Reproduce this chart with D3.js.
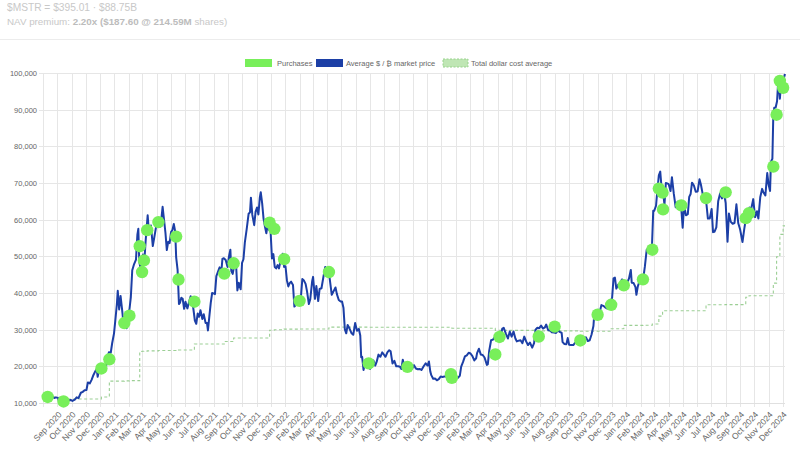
<!DOCTYPE html>
<html><head><meta charset="utf-8">
<script src="https://cdn.jsdelivr.net/npm/d3@7"></script>
<style>
body{margin:0;background:#fff;}
svg{display:block;font-family:"Liberation Sans",Arial,Helvetica,sans-serif;}
</style>
</head><body>
<svg id="chart" width="800" height="451"></svg>
<script>
// ---------- DATA ----------
const headerLine1 = "$MSTR = $395.01 · $88.75B";
const headerLine2a = "NAV premium: ";
const headerLine2b = "2.20x ($187.60 @ 214.59M";
const headerLine2c = " shares)";

const legendLabels = ["Purchases", "Average $ / ₿ market price", "Total dollar cost average"];

const yTickValues = [10000, 20000, 30000, 40000, 50000, 60000, 70000, 80000, 90000, 100000];
const xTickStart = "2020-09-01";
const xTickEnd = "2024-12-01";
const xDomain = ["2020-08-01", "2024-12-06"];

const purchaseDates = [
 "2020-08-11","2020-09-14","2020-12-04","2020-12-21",
 "2021-01-22","2021-02-02","2021-02-24","2021-03-01","2021-03-05","2021-03-12","2021-04-05","2021-05-13","2021-05-18","2021-06-21","2021-08-24","2021-09-13","2021-11-29","2021-12-09","2021-12-30",
 "2022-02-01","2022-04-05","2022-06-29","2022-09-20","2022-12-22","2022-12-24",
 "2023-03-27","2023-04-05","2023-06-28","2023-08-01","2023-09-25","2023-11-01","2023-11-30","2023-12-27",
 "2024-02-06","2024-02-26","2024-03-11","2024-03-19","2024-03-20","2024-04-28","2024-06-20","2024-08-01","2024-09-13","2024-09-20","2024-11-11","2024-11-18","2024-11-25","2024-12-02"
];
const purchasePrices = [
 11654,10419,19427,21925,
 31808,33808,52765,45710,48888,57146,59339,55387,43663,37617,45294,48099,59187,57477,49229,
 37865,45714,20817,19851,17871,16845,
 23238,28016,28136,30835,27053,34070,36785,42110,
 43723,51813,68477,67382,62800,63900,65883,67455,60408,61750,74463,88627,97862,95976
];

const dcaDates = [
 "2020-08-11","2020-09-14","2020-12-04","2020-12-21",
 "2021-01-22","2021-02-02","2021-02-24","2021-03-01","2021-03-05","2021-03-12","2021-04-05","2021-05-13","2021-05-18","2021-06-21","2021-08-24","2021-09-13","2021-11-29","2021-12-09","2021-12-30",
 "2022-02-01","2022-04-05","2022-06-29","2022-09-20","2022-12-24",
 "2023-03-27","2023-04-05","2023-06-28","2023-08-01","2023-09-25","2023-11-01","2023-11-30","2023-12-27",
 "2024-02-06","2024-02-26","2024-03-11","2024-03-19","2024-04-28","2024-06-20","2024-08-01","2024-09-13","2024-09-20","2024-11-11","2024-11-18","2024-11-25","2024-12-02","2024-12-06"
];
const dcaValues = [
 11654,11111,11636,15964,
 16035,16109,24063,24101,24134,24214,24311,24403,24450,26080,26769,27713,29861,29978,30159,
 30200,30700,30664,30639,30397,
 29803,29817,29668,29672,29582,29586,30252,31168,
 31224,31544,33706,35160,35168,36798,36821,38843,39266,42692,49874,55977,58300,58300
];

// BTC market price (sampled)
const priceDates = [
 // 2020
 "2020-08-01","2020-08-05","2020-08-09","2020-08-13","2020-08-17","2020-08-21","2020-08-25","2020-08-29",
 "2020-09-02","2020-09-05","2020-09-09","2020-09-13","2020-09-17","2020-09-21","2020-09-25","2020-09-29",
 "2020-10-03","2020-10-08","2020-10-12","2020-10-16","2020-10-21","2020-10-25","2020-10-29",
 "2020-11-02","2020-11-05","2020-11-09","2020-11-13","2020-11-17","2020-11-21","2020-11-24","2020-11-26","2020-11-30",
 "2020-12-04","2020-12-08","2020-12-12","2020-12-16","2020-12-20","2020-12-24","2020-12-27","2020-12-31",
 // 2021
 "2021-01-03","2021-01-06","2021-01-08","2021-01-11","2021-01-14","2021-01-17","2021-01-21","2021-01-24","2021-01-27","2021-01-29",
 "2021-02-02","2021-02-05","2021-02-08","2021-02-12","2021-02-16","2021-02-19","2021-02-21","2021-02-23","2021-02-26","2021-02-28",
 "2021-03-03","2021-03-06","2021-03-09","2021-03-13","2021-03-16","2021-03-20","2021-03-24","2021-03-28",
 "2021-04-01","2021-04-04","2021-04-08","2021-04-11","2021-04-14","2021-04-17","2021-04-20","2021-04-23","2021-04-26","2021-04-29",
 "2021-05-02","2021-05-05","2021-05-08","2021-05-11","2021-05-13","2021-05-16","2021-05-19","2021-05-21","2021-05-24","2021-05-27","2021-05-30",
 "2021-06-02","2021-06-06","2021-06-09","2021-06-13","2021-06-16","2021-06-19","2021-06-22","2021-06-25","2021-06-28",
 "2021-07-01","2021-07-04","2021-07-08","2021-07-11","2021-07-15","2021-07-18","2021-07-20","2021-07-23","2021-07-26","2021-07-29",
 "2021-08-01","2021-08-04","2021-08-07","2021-08-10","2021-08-14","2021-08-17","2021-08-20","2021-08-23","2021-08-27","2021-08-31",
 "2021-09-03","2021-09-06","2021-09-08","2021-09-11","2021-09-15","2021-09-18","2021-09-21","2021-09-24","2021-09-28",
 "2021-10-01","2021-10-04","2021-10-07","2021-10-11","2021-10-15","2021-10-18","2021-10-20","2021-10-23","2021-10-27","2021-10-30",
 "2021-11-02","2021-11-05","2021-11-08","2021-11-10","2021-11-13","2021-11-16","2021-11-19","2021-11-22","2021-11-25","2021-11-28",
 "2021-12-01","2021-12-04","2021-12-07","2021-12-10","2021-12-13","2021-12-16","2021-12-19","2021-12-22","2021-12-27","2021-12-30",
 // 2022
 "2022-01-02","2022-01-05","2022-01-08","2022-01-11","2022-01-14","2022-01-18","2022-01-21","2022-01-24","2022-01-27","2022-01-31",
 "2022-02-03","2022-02-07","2022-02-10","2022-02-14","2022-02-17","2022-02-21","2022-02-24","2022-02-28",
 "2022-03-02","2022-03-06","2022-03-09","2022-03-13","2022-03-16","2022-03-20","2022-03-24","2022-03-28","2022-03-31",
 "2022-04-04","2022-04-07","2022-04-11","2022-04-15","2022-04-19","2022-04-22","2022-04-26","2022-04-30",
 "2022-05-03","2022-05-06","2022-05-09","2022-05-12","2022-05-15","2022-05-19","2022-05-23","2022-05-27","2022-05-31",
 "2022-06-04","2022-06-08","2022-06-11","2022-06-13","2022-06-15","2022-06-18","2022-06-21","2022-06-25","2022-06-29",
 "2022-07-02","2022-07-06","2022-07-09","2022-07-13","2022-07-16","2022-07-20","2022-07-24","2022-07-28","2022-07-31",
 "2022-08-04","2022-08-08","2022-08-12","2022-08-15","2022-08-19","2022-08-23","2022-08-27","2022-08-31",
 "2022-09-04","2022-09-07","2022-09-10","2022-09-13","2022-09-16","2022-09-19","2022-09-22","2022-09-26","2022-09-30",
 "2022-10-04","2022-10-08","2022-10-12","2022-10-16","2022-10-20","2022-10-25","2022-10-29",
 "2022-11-02","2022-11-05","2022-11-08","2022-11-10","2022-11-14","2022-11-18","2022-11-22","2022-11-26","2022-11-30",
 "2022-12-04","2022-12-08","2022-12-12","2022-12-14","2022-12-17","2022-12-21","2022-12-25","2022-12-29",
 // 2023
 "2023-01-02","2023-01-06","2023-01-10","2023-01-13","2023-01-17","2023-01-21","2023-01-25","2023-01-29",
 "2023-02-02","2023-02-06","2023-02-10","2023-02-14","2023-02-16","2023-02-20","2023-02-24","2023-02-28",
 "2023-03-04","2023-03-09","2023-03-11","2023-03-14","2023-03-18","2023-03-22","2023-03-26","2023-03-30",
 "2023-04-03","2023-04-07","2023-04-11","2023-04-14","2023-04-19","2023-04-23","2023-04-27",
 "2023-05-01","2023-05-05","2023-05-09","2023-05-12","2023-05-16","2023-05-20","2023-05-24","2023-05-28",
 "2023-06-01","2023-06-05","2023-06-09","2023-06-14","2023-06-18","2023-06-21","2023-06-25","2023-06-29",
 "2023-07-03","2023-07-07","2023-07-11","2023-07-14","2023-07-18","2023-07-22","2023-07-26","2023-07-31",
 "2023-08-04","2023-08-08","2023-08-12","2023-08-16","2023-08-18","2023-08-22","2023-08-26","2023-08-29",
 "2023-09-01","2023-09-05","2023-09-10","2023-09-14","2023-09-18","2023-09-22","2023-09-26","2023-09-30",
 "2023-10-03","2023-10-07","2023-10-11","2023-10-15","2023-10-19","2023-10-23","2023-10-25","2023-10-29",
 "2023-11-02","2023-11-06","2023-11-09","2023-11-13","2023-11-17","2023-11-21","2023-11-25","2023-11-29",
 "2023-12-02","2023-12-05","2023-12-08","2023-12-11","2023-12-15","2023-12-19","2023-12-23","2023-12-27","2023-12-31",
 // 2024
 "2024-01-03","2024-01-07","2024-01-11","2024-01-13","2024-01-17","2024-01-21","2024-01-23","2024-01-26","2024-01-30",
 "2024-02-03","2024-02-07","2024-02-10","2024-02-14","2024-02-17","2024-02-21","2024-02-25","2024-02-28",
 "2024-03-01","2024-03-05","2024-03-08","2024-03-11","2024-03-14","2024-03-17","2024-03-20","2024-03-23","2024-03-26","2024-03-29",
 "2024-04-01","2024-04-05","2024-04-08","2024-04-12","2024-04-16","2024-04-20","2024-04-24","2024-04-28",
 "2024-05-01","2024-05-04","2024-05-08","2024-05-12","2024-05-15","2024-05-18","2024-05-21","2024-05-25","2024-05-29",
 "2024-06-02","2024-06-06","2024-06-09","2024-06-13","2024-06-17","2024-06-21","2024-06-24","2024-06-28",
 "2024-07-02","2024-07-05","2024-07-08","2024-07-12","2024-07-16","2024-07-20","2024-07-24","2024-07-29",
 "2024-08-01","2024-08-05","2024-08-08","2024-08-12","2024-08-16","2024-08-20","2024-08-24","2024-08-28",
 "2024-09-01","2024-09-06","2024-09-10","2024-09-13","2024-09-17","2024-09-21","2024-09-25","2024-09-29",
 "2024-10-03","2024-10-07","2024-10-10","2024-10-14","2024-10-18","2024-10-21","2024-10-25","2024-10-29",
 "2024-11-01","2024-11-04","2024-11-06","2024-11-09","2024-11-11","2024-11-13","2024-11-16","2024-11-19","2024-11-22","2024-11-25","2024-11-27","2024-11-30",
 "2024-12-02","2024-12-04","2024-12-06"
];
const priceValues = [
 // 2020
 11800,11750,11680,11580,12250,11670,11370,11530,
 11400,10170,10250,10330,10940,10460,10740,10840,
 10550,10900,11550,11320,12800,13030,13450,
 13550,15600,15330,16300,17650,18680,19150,17150,19700,
 18650,18320,18800,21300,23850,23700,26300,29000,
 // 2021
 32800,36800,40600,35500,39200,35800,30800,32300,30400,34300,
 35500,38900,46200,47900,49100,55900,57500,48800,46300,45200,
 50500,48900,54800,61200,56000,58400,52800,55800,
 58800,58200,58000,59800,63500,60000,56500,51700,54000,53600,
 56600,57200,58800,56700,49700,46400,37000,37300,38700,38400,35700,
 37600,35800,37300,39100,38300,35500,32500,31600,34400,
 33500,35300,32900,34200,31800,31800,29800,33600,37300,40000,
 39900,39700,44600,45600,47000,44800,49300,49500,49000,47100,
 50000,51800,46000,45200,48100,48300,40700,42800,41000,
 48200,49200,53800,57500,61600,62000,66000,61300,58500,62200,
 63300,61400,66000,67500,64500,60300,58100,56300,58900,57200,
 57000,49400,50600,47100,46700,47600,46700,48600,50700,47100,
 // 2022
 47300,43500,41800,42700,43100,42200,36300,36700,37100,38500,
 37300,43800,43500,42500,40500,37000,38300,43200,
 44400,38400,41900,37800,41100,41300,44300,47100,45500,
 46600,43500,39500,40500,41500,39700,38100,37700,
 37700,36000,30100,29000,31300,30300,29100,28600,31800,
 29700,30200,28400,22500,22600,19000,21000,21500,20100,
 19300,20600,21600,20200,21200,23200,22600,23800,23300,
 22600,23800,24400,24100,20800,21500,20000,20000,
 19900,19300,21800,20200,19700,19500,19400,19200,19400,
 20300,19400,19200,19300,19000,20100,20800,
 20200,21300,18500,17600,16600,16700,16200,16500,17200,
 17100,17200,17200,17800,16800,16800,16800,16600,
 // 2023
 16700,16900,17400,19900,21200,22700,23000,23700,
 23500,22800,21600,22200,23600,24800,23200,23100,
 22400,20400,20600,24300,27100,27300,28000,28000,
 28200,28000,30300,30500,28800,27600,29500,
 28100,29500,27600,26800,27000,27100,26300,28100,
 26800,25800,26500,25100,26300,30000,30500,30400,
 31100,30300,30600,31400,29900,29800,29300,29200,
 29100,29800,29400,29100,26600,26100,26000,27700,
 25900,25800,25800,26500,26800,26600,26200,27000,
 27500,27900,26900,27100,28700,31000,34500,34500,
 35400,35000,36700,36500,36100,35800,37700,37800,
 38700,44000,44200,41200,42300,42300,43700,43400,42300,
 // 2024
 42800,43900,46300,42800,42700,41600,39500,41800,43300,
 43000,44300,47100,51800,52100,51300,51700,62400,
 62400,63800,68300,72100,73100,68400,67900,64000,70000,69900,
 69700,67800,71600,67100,63400,64900,64300,63100,
 57800,63900,61200,61500,66200,67000,70100,69300,67600,
 67700,71000,69600,66900,66500,64100,60300,60300,
 62900,56600,56700,57900,65000,67100,65800,66800,
 64600,54000,61700,59400,58900,59100,64200,59000,
 57300,53900,57600,60000,60300,63300,63100,65600,
 60700,62300,60300,66100,68400,67400,66600,72700,
 69500,67800,75800,76600,88700,90500,90600,92300,98900,93000,96000,96400,
 95900,98800,99700
];

// ---------- CHART ----------
const svg = d3.select("#chart");
const parse = d3.timeParse("%Y-%m-%d");
const W = 800, H = 451;
const plot = {left: 43, right: 785, top: 73, bottom: 403};

const colors = {
  dot: "#78ef5a",
  line: "#1c3fa6",
  dca: "#9ccf95",
  grid: "#e6e6e6",
  axisText: "#666",
  header: "#c8c8c8",
  headerBold: "#bcbcbc"
};

const x = d3.scaleTime().domain(xDomain.map(parse)).range([plot.left, plot.right]);
const y = d3.scaleLinear().domain([10000, 100000]).range([plot.bottom, plot.top]);

// Header
svg.append("text").attr("x", 7).attr("y", 10.5).attr("font-size", 10.2).attr("fill", colors.header).text(headerLine1);
const h2 = svg.append("text").attr("x", 7).attr("y", 24.5).attr("font-size", 9.8).attr("fill", colors.header);
h2.append("tspan").text(headerLine2a);
h2.append("tspan").attr("font-weight", "bold").attr("fill", colors.headerBold).text(headerLine2b);
h2.append("tspan").text(headerLine2c);

svg.append("line").attr("x1", 0).attr("x2", W).attr("y1", 39.5).attr("y2", 39.5).attr("stroke", "#ececec");

// Legend
const legend = svg.append("g").attr("font-size", 7.5).attr("fill", "#666");
const legendItems = [
  {x: 245, w: 27, tx: 277, fill: colors.dot, stroke: null},
  {x: 316, w: 27, tx: 346, fill: colors.line, stroke: null},
  {x: 443, w: 25, tx: 471, fill: "#bfe6b4", stroke: "#98d28c"}
];
legendItems.forEach((it, i) => {
  const r = legend.append("rect").attr("x", it.x).attr("y", 59).attr("width", it.w).attr("height", 8).attr("fill", it.fill);
  if (it.stroke) r.attr("stroke", it.stroke).attr("stroke-dasharray", "2,1.5").attr("stroke-width", 1);
  legend.append("text").attr("x", it.tx).attr("y", 65.5).text(legendLabels[i]);
});

// Y grid + axis
const yAxis = d3.axisLeft(y).tickValues(yTickValues).tickFormat(d3.format(","))
  .tickSize(-(plot.right - plot.left + 4)).tickPadding(5).tickSizeOuter(0);
const gy = svg.append("g").attr("transform", `translate(${plot.left - 4},0)`).call(yAxis);
gy.select(".domain").remove();
gy.selectAll(".tick line").attr("stroke", colors.grid).attr("shape-rendering", "crispEdges");
gy.selectAll(".tick text").attr("fill", colors.axisText).attr("font-size", 7.5).attr("font-family", "Liberation Sans, Arial, sans-serif").attr("x", -2);

// X grid + axis
const months = d3.timeMonth.range(parse(xTickStart), d3.timeDay.offset(parse(xTickEnd), 1));
const xAxis = d3.axisBottom(x).tickValues(months).tickFormat(d3.timeFormat("%b %Y"))
  .tickSize(-(plot.bottom - plot.top + 4)).tickSizeOuter(0);
const gx = svg.append("g").attr("transform", `translate(0,${plot.bottom + 4})`).call(xAxis);
gx.select(".domain").remove();
gx.selectAll(".tick line").attr("stroke", colors.grid).attr("shape-rendering", "crispEdges");
gx.selectAll(".tick text")
  .attr("fill", colors.axisText).attr("font-size", 8.5).attr("font-family", "Liberation Sans, Arial, sans-serif")
  .attr("text-anchor", "end").attr("dy", "0.35em").attr("y", 0)
  .attr("transform", "translate(2,6) rotate(-47)");

// Left axis line
svg.append("line").attr("x1", plot.left + 0.5).attr("x2", plot.left + 0.5).attr("y1", plot.top).attr("y2", plot.bottom + 4).attr("stroke", colors.grid);
svg.append("line").attr("x1", plot.left - 4).attr("x2", plot.right).attr("y1", plot.bottom + 0.5).attr("y2", plot.bottom + 0.5).attr("stroke", "#e0e0e0");

// DCA dashed step line
const dcaData = dcaDates.map((d, i) => ({date: parse(d), v: dcaValues[i]}));
svg.append("path").datum(dcaData)
  .attr("fill", "none").attr("stroke", colors.dca).attr("stroke-width", 1.1).attr("stroke-dasharray", "3,2.5")
  .attr("d", d3.line().x(d => x(d.date)).y(d => y(d.v)).curve(d3.curveStepAfter));

// Price line
const n = Math.min(priceDates.length, priceValues.length);
const priceData = d3.range(n).map(i => ({date: parse(priceDates[i]), v: priceValues[i]}));
svg.append("path").datum(priceData)
  .attr("fill", "none").attr("stroke", colors.line).attr("stroke-width", 2).attr("stroke-linejoin", "round")
  .attr("d", d3.line().x(d => x(d.date)).y(d => y(d.v)));

// Purchase dots
const purchases = purchaseDates.map((d, i) => ({date: parse(d), v: purchasePrices[i]}));
svg.append("g").selectAll("circle").data(purchases).join("circle")
  .attr("cx", d => x(d.date)).attr("cy", d => y(d.v)).attr("r", 6.2)
  .attr("fill", colors.dot);
</script>
</body></html>
